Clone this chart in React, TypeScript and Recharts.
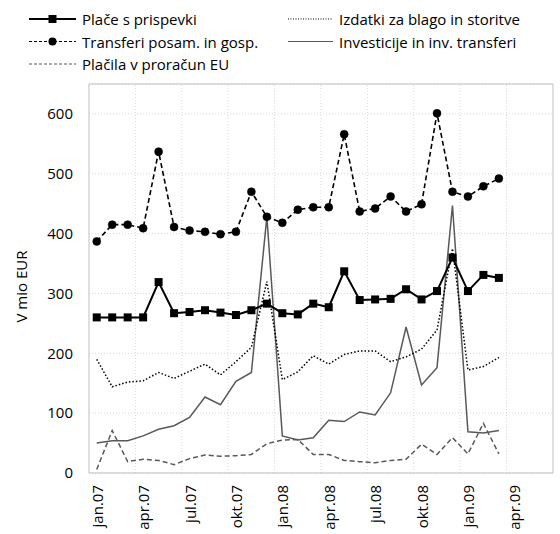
import React from "react";
import {
  LineChart,
  Line,
  XAxis,
  YAxis,
  CartesianGrid,
  ReferenceLine,
} from "recharts";

// months on the category axis (jan.07 .. jun.09)
const months = [
  "jan.07", "feb.07", "mar.07", "apr.07", "maj.07", "jun.07",
  "jul.07", "avg.07", "sep.07", "okt.07", "nov.07", "dec.07",
  "jan.08", "feb.08", "mar.08", "apr.08", "maj.08", "jun.08",
  "jul.08", "avg.08", "sep.08", "okt.08", "nov.08", "dec.08",
  "jan.09", "feb.09", "mar.09", "apr.09", "maj.09", "jun.09",
];
const labelEvery = 3;
const yTicks = [0, 100, 200, 300, 400, 500, 600];

const place = [
  260, 260, 260, 260, 319, 267, 269, 272, 268, 264, 272, 283, 267, 265, 283,
  277, 337, 289, 290, 291, 307, 290, 304, 360, 304, 331, 326,
];
const transferi = [
  387, 415, 415, 409, 537, 411, 405, 403, 399, 403, 470, 428, 418, 440, 444,
  444, 566, 437, 442, 462, 437, 449, 601, 470, 462, 479, 492,
];
const izdatki = [
  190, 144, 152, 154, 168, 158, 170, 182, 164, 186, 210, 320, 156, 169, 196,
  182, 198, 204, 204, 186, 194, 207, 239, 375, 172, 178, 193,
];
const investicije = [
  50, 54, 54, 62, 73, 79, 93, 127, 114, 153, 168, 428, 62, 55, 59,
  88, 86, 102, 97, 134, 244, 147, 176, 447, 69, 67, 71,
];
const placila = [
  6, 71, 19, 23, 21, 14, 24, 30, 28, 29, 31, 49, 55, 56, 31,
  31, 21, 19, 17, 21, 23, 48, 31, 59, 32, 83, 32,
];

const data = place.map((_, i) => ({
  idx: i,
  place: place[i],
  transferi: transferi[i],
  izdatki: izdatki[i],
  investicije: investicije[i],
  placila: placila[i],
}));

const xTicks = months.map((_, i) => i).filter((i) => i % labelEvery === 0);
const gridX = xTicks.map((t) => t - 0.5).filter((t) => t > 0);
gridX.push(months.length - 0.5);

const FONT = "'Open Sans', sans-serif";
const FS = 15;
const GRID = "#d9d9d9";
const BORDER = "#bfbfbf";

const XTick = ({ x, y, payload }: any) => (
  <text
    x={x}
    y={y}
    transform={`rotate(-90 ${x} ${y})`}
    textAnchor="end"
    dominantBaseline="central"
    fontFamily={FONT}
    fontSize={FS}
    fill="#000"
  >
    {months[payload.value]}
  </text>
);

const Square = ({ cx, cy }: any) =>
  cx == null ? null : <rect x={cx - 4} y={cy - 4} width={8} height={8} fill="#000" />;

const legendItems = [
  { name: "Plače s prispevki", color: "#000", dash: "", marker: "square", col: 0, row: 0 },
  { name: "Izdatki za blago in storitve", color: "#000", dash: "1 1.5", marker: "", col: 1, row: 0 },
  { name: "Transferi posam. in gosp.", color: "#000", dash: "3 2", marker: "circle", col: 0, row: 1 },
  { name: "Investicije in inv. transferi", color: "#595959", dash: "", marker: "", col: 1, row: 1 },
  { name: "Plačila v proračun EU", color: "#595959", dash: "3 2", marker: "", col: 0, row: 2 },
];

const ChartLegend = () => (
  <svg width={560} height={80} style={{ position: "absolute", left: 0, top: 0 }}>
    {legendItems.map((it) => {
      const x0 = it.col === 0 ? 29 : 288;
      const len = it.col === 0 ? 47 : 45;
      const y = 19 + it.row * 22.5;
      return (
        <g key={it.name}>
          <line
            x1={x0}
            x2={x0 + len}
            y1={y}
            y2={y}
            stroke={it.color}
            strokeWidth={it.marker === "square" ? 1.8 : 1.2}
            strokeDasharray={it.dash || undefined}
          />
          {it.marker === "square" && <rect x={x0 + 19.5} y={y - 4} width={8} height={8} fill="#000" />}
          {it.marker === "circle" && <circle cx={x0 + 23.5} cy={y} r={4} fill="#000" />}
          <text
            x={x0 + len + 6}
            y={y}
            dominantBaseline="central"
            fontFamily={FONT}
            fontSize={FS}
            fill="#000"
          >
            {it.name}
          </text>
        </g>
      );
    })}
  </svg>
);

export default function App() {
  return (
    <div style={{ position: "absolute", left: 0, top: 0, width: 560, height: 534, background: "#fff" }}>
      <LineChart
        width={560}
        height={534}
        data={data}
        margin={{ top: 84, right: 7, bottom: 0, left: 0 }}
      >
        <CartesianGrid vertical={false} stroke={GRID} strokeDasharray="1 2" />
        {gridX.map((gx) => (
          <ReferenceLine
            key={gx}
            x={gx}
            stroke={gx === months.length - 0.5 ? BORDER : GRID}
            strokeDasharray={gx === months.length - 0.5 ? undefined : "1 2"}
          />
        ))}
        <ReferenceLine y={650} stroke={BORDER} />
        <XAxis
          type="number"
          dataKey="idx"
          domain={[-0.5, months.length - 0.5]}
          ticks={xTicks}
          interval={0}
          height={61}
          tickLine={false}
          tickSize={0}
          tickMargin={12}
          axisLine={{ stroke: BORDER }}
          tick={<XTick />}
        />
        <YAxis
          domain={[0, 650]}
          ticks={yTicks}
          width={89}
          tickLine={false}
          tickSize={0}
          tickMargin={16}
          axisLine={{ stroke: BORDER }}
          tick={{ fontFamily: FONT, fontSize: FS, fill: "#000" }}
          label={{
            value: "V mio EUR",
            angle: -90,
            position: "insideLeft",
            offset: 22,
            dy: 8,
            style: { fontFamily: FONT, fontSize: FS, fill: "#000", textAnchor: "middle" },
          }}
        />
        <Line
          dataKey="investicije"
          stroke="#595959"
          strokeWidth={1.5}
          dot={false}
          isAnimationActive={false}
        />
        <Line
          dataKey="placila"
          stroke="#595959"
          strokeWidth={1.5}
          strokeDasharray="5 3"
          dot={false}
          isAnimationActive={false}
        />
        <Line
          dataKey="izdatki"
          stroke="#000"
          strokeWidth={1.5}
          strokeDasharray="1.5 2"
          dot={false}
          isAnimationActive={false}
        />
        <Line
          dataKey="transferi"
          stroke="#000"
          strokeWidth={1.6}
          strokeDasharray="5 3"
          dot={{ r: 4, fill: "#000", stroke: "#000", strokeWidth: 0.5, strokeDasharray: "" }}
          isAnimationActive={false}
        />
        <Line
          dataKey="place"
          stroke="#000"
          strokeWidth={2}
          dot={<Square />}
          isAnimationActive={false}
        />
      </LineChart>
      <ChartLegend />
    </div>
  );
}
